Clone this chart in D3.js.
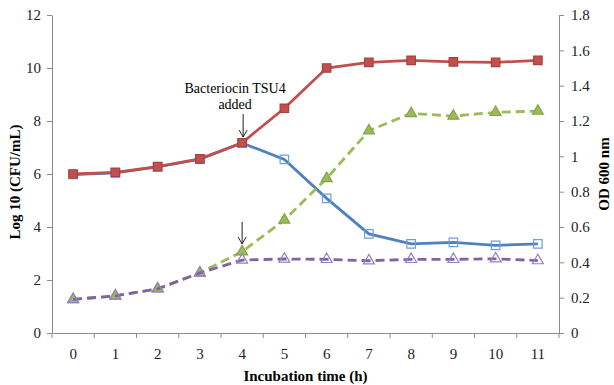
<!DOCTYPE html>
<html>
<head>
<meta charset="utf-8">
<script src="https://cdn.jsdelivr.net/npm/d3@7"></script>
<style>
  body { margin: 0; background: #fff; }
  svg text { font-family: "Liberation Serif", "Times New Roman", Times, serif; }
</style>
</head>
<body>
<div id="chart"></div>
<script>
// data
const hours = [0, 1, 2, 3, 4, 5, 6, 7, 8, 9, 10, 11]
const cfuControl = [6.0, 6.06, 6.28, 6.57, 7.18, 8.48, 10.0, 10.21, 10.29, 10.23, 10.21, 10.29]
const cfuTreated = [5.98, 6.04, 6.27, 6.56, 7.17, 6.55, 5.08, 3.74, 3.36, 3.42, 3.31, 3.36]
const odControl = [0.19, 0.21, 0.25, 0.34, 0.46, 0.64, 0.875, 1.145, 1.243, 1.228, 1.249, 1.256]
const odTreated = [0.19, 0.21, 0.25, 0.34, 0.413, 0.419, 0.417, 0.409, 0.417, 0.417, 0.42, 0.41]
const leftTicks = [0, 2, 4, 6, 8, 10, 12]
const rightTicks = [0, 0.2, 0.4, 0.6, 0.8, 1, 1.2, 1.4, 1.6, 1.8]

const width = 614
const height = 385
const margin = { top: 15, right: 55, bottom: 52, left: 52 }

const svg = d3.select("#chart").append("svg")
  .attr("width", width)
  .attr("height", height)
  .attr("font-family", "Liberation Serif")

const x = d3.scaleBand()
  .domain(hours)
  .range([margin.left, width - margin.right])

const cx = d => x(d) + x.bandwidth() / 2

const yL = d3.scaleLinear().domain([0, 12]).range([height - margin.bottom, margin.top])
const yR = d3.scaleLinear().domain([0, 1.8]).range([height - margin.bottom, margin.top])

const axisColor = "#8c8c8c"

function styleAxis(g) {
  g.attr("font-family", null).attr("font-size", null)
  g.selectAll("path, line").attr("stroke", axisColor)
  g.selectAll("text").attr("font-size", 15).attr("fill", "#222")
}

// left axis
svg.append("g")
  .attr("transform", `translate(${margin.left},0)`)
  .call(d3.axisLeft(yL).tickValues(leftTicks).tickSize(5).tickSizeOuter(0).tickPadding(6))
  .call(styleAxis)

// right axis
svg.append("g")
  .attr("transform", `translate(${width - margin.right},0)`)
  .call(d3.axisRight(yR).tickValues(rightTicks).tickFormat(d3.format("~g")).tickSize(5).tickSizeOuter(0).tickPadding(7))
  .call(styleAxis)

// bottom axis, ticks sit on the category boundaries
const gB = svg.append("g")
  .attr("transform", `translate(0,${height - margin.bottom})`)
  .call(d3.axisBottom(x).tickSize(0).tickPadding(15))
  .call(styleAxis)

gB.selectAll("line.bound")
  .data(hours.concat([null]))
  .join("line")
  .attr("class", "bound")
  .attr("x1", d => d === null ? x.range()[1] : x(d))
  .attr("x2", d => d === null ? x.range()[1] : x(d))
  .attr("y1", 0)
  .attr("y2", 5)
  .attr("stroke", axisColor)

// axis titles
svg.append("text")
  .attr("transform", "translate(20,182) rotate(-90)")
  .attr("text-anchor", "middle")
  .attr("font-size", 15)
  .attr("font-weight", "bold")
  .text("Log 10 (CFU/mL)")

svg.append("text")
  .attr("transform", "translate(609,174) rotate(-90)")
  .attr("text-anchor", "middle")
  .attr("font-size", 15)
  .attr("font-weight", "bold")
  .text("OD 600 nm")

svg.append("text")
  .attr("x", (x.range()[0] + x.range()[1]) / 2)
  .attr("y", 381)
  .attr("text-anchor", "middle")
  .attr("font-size", 15)
  .attr("font-weight", "bold")
  .text("Incubation time (h)")

// series
const series = [
  { values: cfuTreated, y: yL, color: "#4f81bd", dash: null, marker: "square", fill: "none", stroke: "#6d9fdc" },
  { values: cfuControl, y: yL, color: "#c0504d", dash: null, marker: "square", fill: "#c0504d", stroke: "#a8403d" },
  { values: odControl, y: yR, color: "#9bbb59", dash: "9,5", marker: "triangle", fill: "#9bbb59", stroke: "#86a446" },
  { values: odTreated, y: yR, color: "#8064a2", dash: "9,5", marker: "triangle", fill: "none", stroke: "#9a7fc0" }
]

series.forEach(s => {
  const line = d3.line()
    .x((d, i) => cx(hours[i]))
    .y(d => s.y(d))

  svg.append("path")
    .datum(s.values)
    .attr("d", line)
    .attr("fill", "none")
    .attr("stroke", s.color)
    .attr("stroke-width", 2.8)
    .attr("stroke-dasharray", s.dash)

  const sym = d3.symbol()
    .type(s.marker === "square" ? d3.symbolSquare : d3.symbolTriangle)
    .size(s.marker === "square" ? 72 : 52)

  svg.append("g")
    .selectAll("path")
    .data(s.values)
    .join("path")
    .attr("transform", (d, i) => `translate(${cx(hours[i])},${s.y(d)})`)
    .attr("d", sym)
    .attr("fill", s.fill)
    .attr("stroke", s.stroke)
    .attr("stroke-width", 1.2)
})

// annotation
const ax = cx(4)
svg.append("text")
  .attr("x", ax - 7)
  .attr("y", 93)
  .attr("text-anchor", "middle")
  .attr("font-size", 14)
  .text("Bacteriocin TSU4")
svg.append("text")
  .attr("x", ax - 7)
  .attr("y", 109)
  .attr("text-anchor", "middle")
  .attr("font-size", 14)
  .text("added")

function arrow(x0, y0, y1) {
  svg.append("line")
    .attr("x1", x0).attr("x2", x0)
    .attr("y1", y0).attr("y2", y1)
    .attr("stroke", "#222").attr("stroke-width", 1)
  svg.append("path")
    .attr("d", `M${x0 - 4},${y1 - 7} L${x0},${y1} L${x0 + 4},${y1 - 7}`)
    .attr("fill", "none")
    .attr("stroke", "#222")
    .attr("stroke-width", 1)
}
arrow(ax + 1, 114, 137)
arrow(ax, 222, 244)
</script>
</body>
</html>
